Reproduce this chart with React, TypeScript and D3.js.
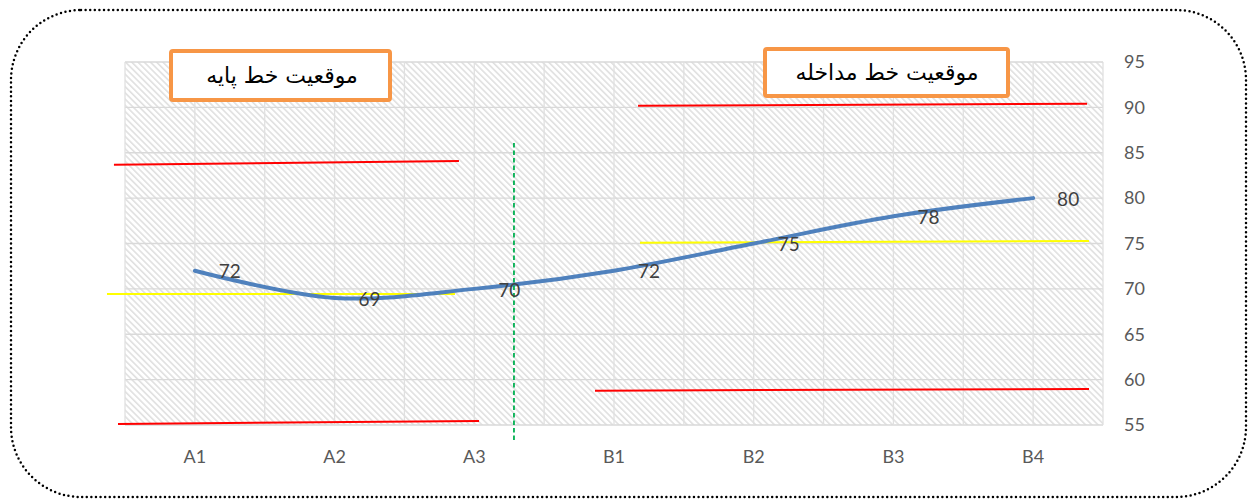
import React from "react";
import * as d3 from "d3";

const categories = ["A1", "A2", "A3", "B1", "B2", "B3", "B4"];
const values = [72, 69, 70, 72, 75, 78, 80];
const yTicks = [55, 60, 65, 70, 75, 80, 85, 90, 95];
const boxTitles = ["موقعیت خط پایه", "موقعیت خط مداخله"];

// annotation lines in chart units: x in category slots (0 = plot left, 7 = plot right), y in values
const redLines = [
  [-0.079, 83.68, 2.39, 84.09],
  [3.672, 90.18, 6.886, 90.41],
  [-0.05, 55.11, 2.534, 55.44],
  [3.364, 58.78, 6.9, 58.97],
];
const yellowLines = [
  [-0.129, 69.44, 2.362, 69.44],
  [3.686, 75.09, 6.9, 75.28],
];
const phaseLine = [2.784, 86.07, 2.784, 53.35];

const W = 1249;
const H = 501;
const left = 125;
const right = 1103;
const top = 62;
const bottom = 425;

export default function App() {
  const x = d3.scalePoint<string>().domain(categories).range([left, right]).padding(0.5);
  const slot = d3.scaleLinear().domain([0, categories.length]).range([left, right]);
  const y = d3.scaleLinear().domain([55, 95]).range([bottom, top]);
  const step = x.step();

  const pts: [number, number][] = values.map((v, i) => [x(categories[i]) as number, y(v)]);
  const line = d3.line().curve(d3.curveCatmullRom.alpha(0.5))(pts) || "";

  const vGrid: number[] = d3.range(0, categories.length * 2 + 1).map((i) => left + (i * step) / 2);

  const font = "Lato, 'Open Sans', sans-serif";

  return (
    <svg
      width={W}
      height={H}
      style={{ position: "fixed", left: 0, top: 0, background: "#fff" }}
      xmlns="http://www.w3.org/2000/svg"
    >
      <defs>
        <pattern
          id="hatch"
          width="4.4"
          height="4.4"
          patternUnits="userSpaceOnUse"
          patternTransform="rotate(-45)"
        >
          <rect width="4.4" height="4.4" fill="#ffffff" />
          <rect x="0" y="0" width="1.6" height="4.4" fill="#e0e0e0" />
        </pattern>
      </defs>
      <rect x={0} y={0} width={W} height={H} fill="#fff" />
      <rect
        x={11}
        y={10}
        width={1235}
        height={487}
        rx={70}
        ry={70}
        fill="none"
        stroke="#000"
        strokeWidth={2.5}
        strokeDasharray="0 4.6"
        strokeLinecap="round"
      />
      {/* plot area */}
      <rect x={left} y={top} width={right - left} height={bottom - top} fill="url(#hatch)" />
      {yTicks.map((t) => (
        <line key={"h" + t} x1={left} x2={right} y1={y(t)} y2={y(t)} stroke="#d9d9d9" strokeWidth={1.3} />
      ))}
      {vGrid.map((gx, i) => (
        <line key={"v" + i} x1={gx} x2={gx} y1={top} y2={bottom} stroke="#e0e0e0" strokeWidth={1.3} />
      ))}
      {/* axis labels */}
      {yTicks.map((t) => (
        <text
          key={"yl" + t}
          x={1124}
          y={y(t)}
          dy="0.35em"
          fontFamily={font}
          fontSize={18}
          fill="#595959"
        >
          {t}
        </text>
      ))}
      {categories.map((c) => (
        <text
          key={"xl" + c}
          x={x(c)}
          y={457}
          dy="0.35em"
          textAnchor="middle"
          fontFamily={font}
          fontSize={18}
          fill="#595959"
        >
          {c}
        </text>
      ))}
      {/* annotation lines */}
      {redLines.map((l, i) => (
        <line key={"r" + i} x1={slot(l[0])} y1={y(l[1])} x2={slot(l[2])} y2={y(l[3])} stroke="#ff0000" strokeWidth={2} />
      ))}
      {yellowLines.map((l, i) => (
        <line key={"yw" + i} x1={slot(l[0])} y1={y(l[1])} x2={slot(l[2])} y2={y(l[3])} stroke="#ffff00" strokeWidth={2} />
      ))}
      {/* series line */}
      <path d={line} fill="none" stroke="#4f81bd" strokeWidth={4} strokeLinecap="round" />
      <line
        x1={slot(phaseLine[0])}
        y1={y(phaseLine[1])}
        x2={slot(phaseLine[2])}
        y2={y(phaseLine[3])}
        stroke="#00b050"
        strokeWidth={1.8}
        strokeDasharray="4.5 3"
      />
      {values.map((v, i) => (
        <text
          key={"dl" + i}
          x={(x(categories[i]) as number) + 35}
          y={y(v) + 1}
          dy="0.35em"
          textAnchor="middle"
          fontFamily={font}
          fontSize={19}
          fill="#404040"
        >
          {v}
        </text>
      ))}
      {/* title boxes */}
      <rect x={171} y={51} width={219} height={49} rx={2} fill="#fff" stroke="#f79646" strokeWidth={4} />
      <text x={282} y={75} dy="0.35em" textAnchor="middle" fontFamily="'DejaVu Sans', sans-serif" fontSize={22} fill="#000">
        {boxTitles[0]}
      </text>
      <rect x={765} y={49} width={243} height={47} rx={2} fill="#fff" stroke="#f79646" strokeWidth={4} />
      <text x={887} y={72} dy="0.35em" textAnchor="middle" fontFamily="'DejaVu Sans', sans-serif" fontSize={22} fill="#000">
        {boxTitles[1]}
      </text>
    </svg>
  );
}
